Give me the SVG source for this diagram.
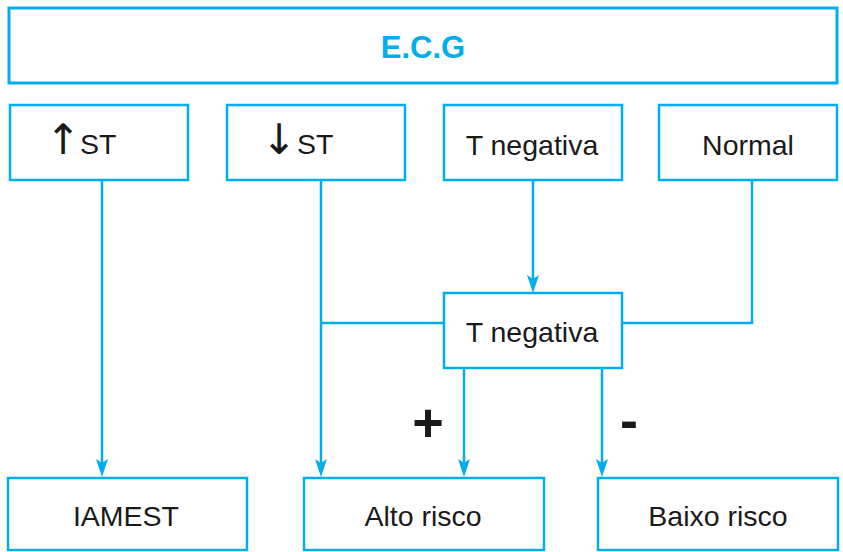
<svg xmlns="http://www.w3.org/2000/svg" width="843" height="552" viewBox="0 0 843 552">
<style>
.box{fill:#fff;stroke:#00AEEF;stroke-width:2.5}
.lbl{font-family:"Liberation Sans",Arial,sans-serif;font-size:28.5px;fill:#1a1a1a;text-anchor:middle}
.st{font-family:"Liberation Sans",Arial,sans-serif;font-size:28.5px;fill:#1a1a1a}
.arr{font-family:"DejaVu Sans",sans-serif;font-size:42px;fill:#1a1a1a;text-anchor:middle}
.conn{fill:none;stroke:#00AEEF;stroke-width:2.5}
.sign{font-family:"Liberation Sans",Arial,sans-serif;font-size:54px;font-weight:bold;fill:#1a1a1a;text-anchor:middle}
</style>
<defs>
<marker id="ah" markerUnits="userSpaceOnUse" viewBox="-10 -7 20 14" markerWidth="20" markerHeight="14" refX="0" refY="0" orient="auto" overflow="visible">
<path d="M8,0 L-10,-6 L-6,0 L-10,6 Z" fill="#00AEEF"/>
</marker>
</defs>
<g id="ecg">
<rect class="box" x="9" y="8" width="828" height="75" style="stroke-width:3"/>
<text x="423" y="58" style="font-family:'Liberation Sans',Arial,sans-serif;font-size:31px;font-weight:bold;fill:#00AEEF;text-anchor:middle">E.C.G</text>
</g>
<g id="st-up">
<rect class="box" x="10" y="105" width="178" height="75"/>
<text y="154"><tspan class="arr" x="63" y="154">↑</tspan><tspan class="st" x="80" y="154">ST</tspan></text>
</g>
<g id="st-down">
<rect class="box" x="227" y="105" width="178" height="75"/>
<text y="154"><tspan class="arr" x="279" y="154">↓</tspan><tspan class="st" x="297" y="154">ST</tspan></text>
</g>
<g id="t-neg-top">
<rect class="box" x="444" y="105" width="178" height="75"/>
<text class="lbl" x="532" y="155">T negativa</text>
</g>
<g id="normal">
<rect class="box" x="659" y="105" width="178" height="75"/>
<text class="lbl" x="748" y="155">Normal</text>
</g>
<g id="t-neg-mid">
<rect class="box" x="444" y="293" width="178" height="75"/>
<text class="lbl" x="532" y="342">T negativa</text>
</g>
<g id="iamest">
<rect class="box" x="8" y="478" width="239" height="72"/>
<text class="lbl" x="126" y="526">IAMEST</text>
</g>
<g id="alto">
<rect class="box" x="304" y="478" width="240" height="72"/>
<text class="lbl" x="423" y="526">Alto risco</text>
</g>
<g id="baixo">
<rect class="box" x="598" y="478" width="240" height="72"/>
<text class="lbl" x="718" y="526">Baixo risco</text>
</g>
<g id="connectors">
<path class="conn" d="M102,181 V469" marker-end="url(#ah)"/>
<path class="conn" d="M321,181 V469" marker-end="url(#ah)"/>
<path class="conn" d="M321,323 H444"/>
<path class="conn" d="M533,181 V285" marker-end="url(#ah)"/>
<path class="conn" d="M622,323 H752 V181"/>
<path class="conn" d="M464,368 V469" marker-end="url(#ah)"/>
<path class="conn" d="M602,368 V469" marker-end="url(#ah)"/>
</g>
<g id="signs">
<text class="sign" x="428" y="441">+</text>
<text class="sign" x="629" y="439">-</text>
</g>
</svg>
